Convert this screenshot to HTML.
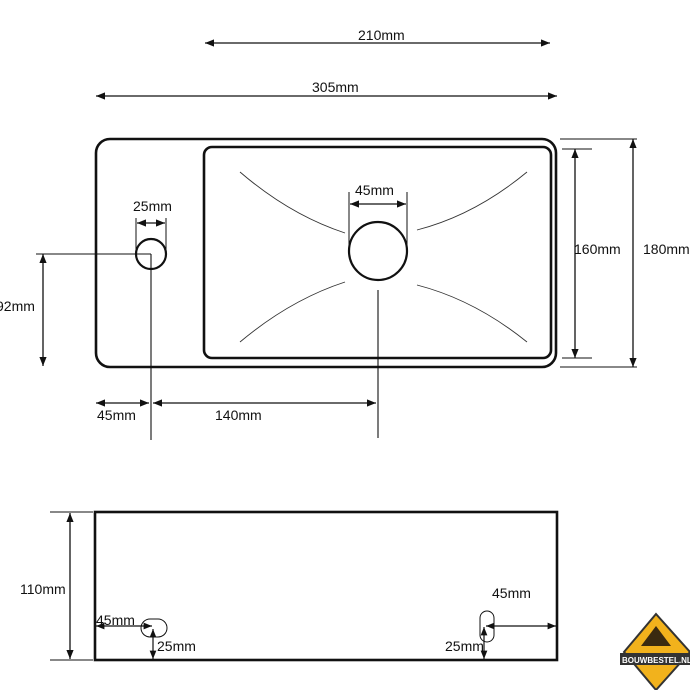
<!DOCTYPE html>
<html><head><meta charset="utf-8"><style>
html,body{margin:0;padding:0;background:#fff;width:690px;height:690px;overflow:hidden}
svg{display:block}
text{font-family:"Liberation Sans",Arial,sans-serif;font-size:14px;fill:#111}
</style></head><body>
<svg width="690" height="690" viewBox="0 0 690 690" xmlns="http://www.w3.org/2000/svg">
<defs>
<marker id="a" viewBox="0 0 10 10" refX="10" refY="5" markerWidth="7" markerHeight="7" orient="auto-start-reverse"><path d="M0,1 L10,5 L0,9 z" fill="#111"/></marker>
</defs>
<g stroke="#111" fill="none">
<line x1="205" y1="43" x2="550" y2="43" stroke-width="1.3" marker-start="url(#a)" marker-end="url(#a)"/>
<line x1="96" y1="96" x2="557" y2="96" stroke-width="1.3" marker-start="url(#a)" marker-end="url(#a)"/>
<rect x="96" y="139" width="460" height="228" rx="14" stroke-width="2.6"/>
<rect x="204" y="147" width="347" height="211" rx="8" stroke-width="2.6"/>
<circle cx="151" cy="254" r="15" stroke-width="2.2"/>
<circle cx="378" cy="251" r="29" stroke-width="2.2"/>
<g stroke-width="0.9" stroke="#333">
<path d="M240,172 Q290,215 345,233"/>
<path d="M240,342 Q290,300 345,282"/>
<path d="M527,172 Q475,215 417,230"/>
<path d="M527,342 Q475,300 417,285"/>
</g>
<line x1="562" y1="149" x2="592" y2="149" stroke-width="1"/>
<line x1="562" y1="358" x2="592" y2="358" stroke-width="1"/>
<line x1="575" y1="149" x2="575" y2="358" stroke-width="1.3" marker-start="url(#a)" marker-end="url(#a)"/>
<line x1="560" y1="139" x2="637" y2="139" stroke-width="1"/>
<line x1="560" y1="367" x2="637" y2="367" stroke-width="1"/>
<line x1="633" y1="139" x2="633" y2="367" stroke-width="1.3" marker-start="url(#a)" marker-end="url(#a)"/>
<line x1="36" y1="254" x2="151" y2="254" stroke-width="1.1"/>
<line x1="43" y1="254" x2="43" y2="366" stroke-width="1.3" marker-start="url(#a)" marker-end="url(#a)"/>
<line x1="151" y1="254" x2="151" y2="440" stroke-width="1.1"/>
<line x1="378" y1="290" x2="378" y2="438" stroke-width="1.1"/>
<line x1="96" y1="403" x2="149" y2="403" stroke-width="1.3" marker-start="url(#a)" marker-end="url(#a)"/>
<line x1="153" y1="403" x2="376" y2="403" stroke-width="1.3" marker-start="url(#a)" marker-end="url(#a)"/>
<line x1="136" y1="218" x2="136" y2="254" stroke-width="1"/>
<line x1="166" y1="218" x2="166" y2="254" stroke-width="1"/>
<line x1="137" y1="223" x2="165" y2="223" stroke-width="1.3" marker-start="url(#a)" marker-end="url(#a)"/>
<line x1="349" y1="192" x2="349" y2="250" stroke-width="1"/>
<line x1="407" y1="192" x2="407" y2="250" stroke-width="1"/>
<line x1="350" y1="204" x2="406" y2="204" stroke-width="1.3" marker-start="url(#a)" marker-end="url(#a)"/>
<rect x="95" y="512" width="462" height="148" stroke-width="2.6"/>
<line x1="50" y1="512" x2="93" y2="512" stroke-width="0.9"/>
<line x1="50" y1="660" x2="93" y2="660" stroke-width="0.9"/>
<line x1="70" y1="513" x2="70" y2="659" stroke-width="1.3" marker-start="url(#a)" marker-end="url(#a)"/>
<rect x="141" y="619" width="26" height="18" rx="9" stroke-width="1"/>
<rect x="480" y="611" width="14" height="31" rx="7" stroke-width="1"/>
<line x1="96" y1="626" x2="152" y2="626" stroke-width="1.2" marker-start="url(#a)" marker-end="url(#a)"/>
<line x1="153" y1="629" x2="153" y2="659" stroke-width="1.2" marker-start="url(#a)" marker-end="url(#a)"/>
<line x1="486" y1="626" x2="556" y2="626" stroke-width="1.2" marker-start="url(#a)" marker-end="url(#a)"/>
<line x1="484" y1="627" x2="484" y2="659" stroke-width="1.2" marker-start="url(#a)" marker-end="url(#a)"/>
</g>
<text x="358" y="40">210mm</text>
<text x="312" y="92">305mm</text>
<text x="133" y="211">25mm</text>
<text x="355" y="195">45mm</text>
<text x="574" y="254">160mm</text>
<text x="643" y="254">180mm</text>
<text x="-4" y="311">92mm</text>
<text x="97" y="420">45mm</text>
<text x="215" y="420">140mm</text>
<text x="20" y="594">110mm</text>
<text x="96" y="625">45mm</text>
<text x="157" y="651">25mm</text>
<text x="492" y="598">45mm</text>
<text x="445" y="651">25mm</text>
<g>
<path d="M656,614 L690,652 L656,690 L624,652 z" fill="#f2b21c" stroke="#333" stroke-width="2"/>
<path d="M656,626 l15,20 h-30 z" fill="#3a2a10"/>
<rect x="620" y="653" width="70" height="12" fill="#333"/>
<text x="622" y="663" style="font-size:8px;font-weight:bold;fill:#fff">BOUWBESTEL.NL</text>
</g>
</svg>
</body></html>
